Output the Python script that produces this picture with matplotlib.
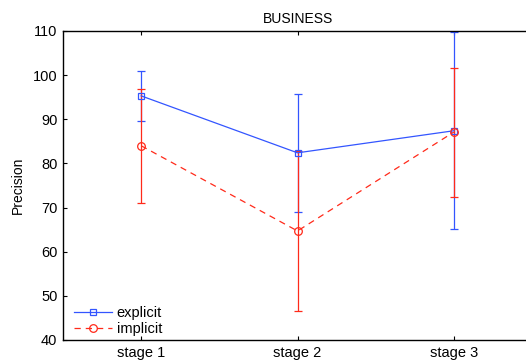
import matplotlib
matplotlib.use("Agg")
import matplotlib.pyplot as plt
from matplotlib.lines import Line2D

# ── data ──
stages = ["stage 1", "stage 2", "stage 3"]
explicit_mean = [95.3, 82.4, 87.4]
explicit_err = [5.7, 13.3, 22.3]
implicit_mean = [84.0, 64.7, 87.1]
implicit_err = [12.9, 18.1, 14.6]

BLUE = "#3355ff"
RED = "#ff2a1a"

plt.rcParams.update({
    "font.family": "Liberation Sans",
    "font.size": 10.5,
    "axes.linewidth": 1.0,
    "xtick.direction": "in",
    "ytick.direction": "in",
    "xtick.major.size": 3,
    "ytick.major.size": 3,
})

fig = plt.figure(figsize=(5.26, 3.62), dpi=100)
ax = fig.add_axes([0.1198, 0.0608, 0.8916, 0.8536])

x = list(range(1, len(stages) + 1))
ax.errorbar(x, explicit_mean, yerr=explicit_err, color=BLUE, lw=0.9,
            marker="s", ms=5, mfc="none", mew=0.9, capsize=3, elinewidth=0.9)
ax.errorbar(x, implicit_mean, yerr=implicit_err, color=RED, lw=0.9,
            ls=(0, (5, 4)), marker="o", ms=5.5, mfc="none", mew=0.9,
            capsize=3, elinewidth=0.9)

ax.set_xlim(0.5, 3.5)
ax.set_ylim(40, 110)
ax.set_xticks(x)
ax.set_xticklabels(stages)
ax.set_yticks(range(40, 111, 10))
ax.tick_params(top=True, right=True, pad=4)
ax.set_ylabel("Precision", labelpad=6, fontsize=10)
ax.set_title("BUSINESS", fontsize=10, pad=6)

handles = [
    Line2D([], [], color=BLUE, lw=0.9, marker="s", ms=5, mfc="none", mew=0.9),
    Line2D([], [], color=RED, lw=0.9, ls=(0, (5, 4)), marker="o", ms=5.5,
           mfc="none", mew=0.9),
]
ax.legend(handles, ["explicit", "implicit"], loc="lower left",
          bbox_to_anchor=(0.015, 0.0), frameon=False,
          handlelength=2.6, borderaxespad=0.0, borderpad=0.3,
          labelspacing=0.1, handletextpad=0.3)

fig.savefig("out.png", dpi=100)
